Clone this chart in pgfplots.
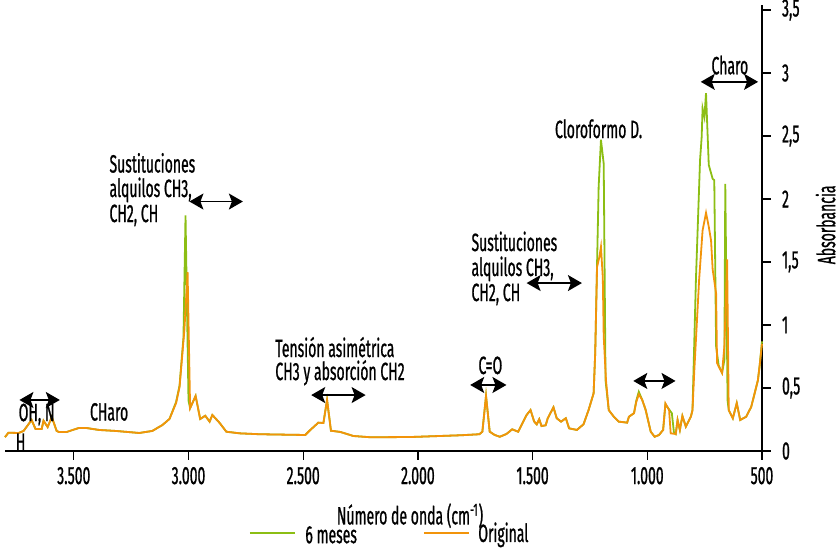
\documentclass[border=0pt]{standalone}
\usepackage{fontspec}
\setmainfont{Fira Sans}[FakeStretch=0.56, FakeBold=0.8]
\usepackage{pgfplots}
\pgfplotsset{compat=1.18}
\usepackage{pgfplotstable}
\usetikzlibrary{arrows.meta}
\definecolor{verde}{RGB}{140,190,20}
\definecolor{naranja}{RGB}{242,148,10}
\newcommand\lbl{\fontsize{12.5}{14}\selectfont}

% espectro original
\pgfplotstableread{
wn abs
3800 0.11
3785 0.145
3741 0.143
3719 0.159
3684 0.246
3667 0.175
3640 0.175
3632 0.24
3614 0.19
3596 0.27
3575 0.16
3566 0.151
3531 0.151
3478 0.183
3447 0.183
3390 0.167
3316 0.159
3215 0.143
3158 0.159
3114 0.206
3083 0.254
3054 0.381
3039 0.508
3018 0.96
3004 1.42
2993 0.34
2969 0.437
2949 0.254
2927 0.28
2908 0.233
2896 0.286
2864 0.222
2835 0.153
2776 0.14
2689 0.133
2491 0.127
2469 0.167
2434 0.225
2412 0.222
2396 0.405
2379 0.161
2338 0.151
2281 0.119
2206 0.109
2031 0.111
1811 0.125
1732 0.133
1719 0.153
1703 0.437
1687 0.153
1665 0.127
1643 0.113
1614 0.135
1589 0.172
1563 0.153
1526 0.286
1509 0.325
1493 0.233
1482 0.212
1471 0.252
1461 0.198
1443 0.204
1434 0.26
1409 0.347
1395 0.26
1376 0.233
1355 0.26
1341 0.18
1307 0.167
1278 0.212
1256 0.325
1234 0.458
1227 0.78
1219 1.46
1209 1.54
1202 1.62
1194 1.38
1190 0.91
1180 0.56
1168 0.325
1146 0.272
1124 0.233
1088 0.225
1080 0.272
1058 0.3
1048 0.39
1037 0.45
1022 0.405
1007 0.325
985 0.153
968 0.113
949 0.127
931 0.167
921 0.378
905 0.325
898 0.14
876 0.135
868 0.246
858 0.167
847 0.278
832 0.193
810 0.272
803 0.325
795 0.64
774 1.36
759 1.75
744 1.89
732 1.78
722 1.67
715 1.44
700 1.25
696 0.70
686 0.66
674 0.62
664 0.83
652 1.52
645 0.325
627 0.26
610 0.38
595 0.246
569 0.272
547 0.35
518 0.56
510 0.68
500 0.85
}\original

% espectro a los 6 meses
\pgfplotstableread{
wn abs
3800 0.11
3785 0.145
3741 0.143
3719 0.159
3684 0.246
3667 0.175
3640 0.175
3632 0.24
3614 0.19
3596 0.27
3575 0.16
3566 0.151
3531 0.151
3478 0.183
3447 0.183
3390 0.167
3316 0.159
3215 0.143
3158 0.159
3114 0.206
3083 0.254
3054 0.39
3039 0.52
3022 0.90
3013 1.87
3000 0.40
2993 0.34
2969 0.437
2949 0.254
2927 0.28
2908 0.233
2896 0.286
2864 0.222
2835 0.153
2776 0.14
2689 0.133
2491 0.127
2469 0.167
2434 0.225
2412 0.222
2396 0.405
2379 0.161
2338 0.151
2281 0.119
2206 0.109
2031 0.111
1811 0.125
1732 0.133
1719 0.153
1703 0.437
1687 0.153
1665 0.127
1643 0.113
1614 0.135
1589 0.172
1563 0.153
1526 0.286
1509 0.325
1493 0.233
1482 0.212
1471 0.252
1461 0.198
1443 0.204
1434 0.26
1409 0.347
1395 0.26
1376 0.233
1355 0.26
1341 0.18
1307 0.167
1278 0.212
1256 0.325
1234 0.458
1227 0.78
1212 2.10
1202 2.47
1190 2.28
1182 0.56
1168 0.325
1146 0.272
1124 0.233
1088 0.225
1080 0.272
1058 0.3
1048 0.40
1037 0.47
1022 0.405
1007 0.325
985 0.153
968 0.113
949 0.127
931 0.167
921 0.37
905 0.33
893 0.30
884 0.15
876 0.135
868 0.246
858 0.167
847 0.278
832 0.193
810 0.272
803 0.325
788 1.36
770 2.31
763 2.49
759 2.72
751 2.65
744 2.84
732 2.27
715 2.16
708 2.15
700 0.83
689 0.68
674 0.62
664 0.72
660 2.12
650 0.40
645 0.325
627 0.26
610 0.38
595 0.246
569 0.272
547 0.35
518 0.56
510 0.68
500 0.87
}\seismeses

\begin{document}
\begin{tikzpicture}[
  arr/.style={{Stealth[length=7pt,width=8pt,inset=1.5pt]}-{Stealth[length=7pt,width=8pt,inset=1.5pt]}, line width=0.7pt},
  txt/.style={font=\lbl, inner sep=0pt}]
\begin{axis}[
  scale only axis, width=378.5pt, height=223pt,
  x dir=reverse, xmin=500, xmax=3800, ymin=0, ymax=3.54,
  axis x line*=bottom, axis y line*=right,
  clip=false,
  xtick={3500,3000,2500,2000,1500,1000,500},
  xticklabels={3.500,3.000,2.500,2.000,1.500,1.000,500},
  ytick={0,0.5,1,1.5,2,2.5,3,3.5},
  yticklabels={0,{0,5},1,{1,5},2,{2,5},3,{3,5}},
  tick align=outside, major tick length=4.5pt,
  tick style={black, line width=0.6pt},
  axis line style={black, line width=0.6pt},
  ticklabel style={font=\lbl},
  yticklabel style={xshift=2pt},
]
\addplot[verde, line width=0.9pt] table[x=wn, y=abs] {\seismeses};
\addplot[naranja, line width=0.9pt] table[x=wn, y=abs] {\original};

\coordinate (bl) at (axis description cs:0,0);
\coordinate (tr) at (axis description cs:1,1);

\node[font=\lbl, rotate=90] at (axis description cs:1.084,0.507) {Absorbancia};
\node[font=\lbl] at (axis description cs:0.535,-0.145) {Número de onda (cm\textsuperscript{-1})};

% leyenda
\draw[verde, line width=0.9pt] (axis description cs:0.3236,-0.1839) -- (axis description cs:0.3831,-0.1839);
\node[txt, anchor=west] at (axis description cs:0.3963,-0.188) {6 meses};
\draw[naranja, line width=0.9pt] (axis description cs:0.5535,-0.1839) -- (axis description cs:0.6129,-0.1839);
\node[txt, anchor=west] at (axis description cs:0.6248,-0.188) {Original};

% anotaciones
\node[txt] at (axis cs:3662,0.29) {OH, N};
\node[txt] at (axis cs:3732,0.07) {H};
\draw[arr] (axis cs:3737,0.405) -- (axis cs:3561,0.405);
\node[txt] at (axis cs:3346,0.31) {CHaro};

\node[txt, anchor=base west] at (axis cs:3346,2.21) {Sustituciones};
\node[txt, anchor=base west] at (axis cs:3346,2.016) {alquilos CH3,};
\node[txt, anchor=base west] at (axis cs:3346,1.817) {CH2, CH};
\draw[arr] (axis cs:2996,1.98) -- (axis cs:2763,1.98);

\node[txt, anchor=base west] at (axis cs:2623,0.746) {Tensión asimétrica};
\node[txt, anchor=base west] at (axis cs:2623,0.563) {CH3 y absorción CH2};
\draw[arr] (axis cs:2465,0.444) -- (axis cs:2228,0.444);

\node[txt, anchor=base] at (axis cs:1684,0.611) {C=O};
\draw[arr] (axis cs:1772,0.524) -- (axis cs:1614,0.524);

\node[txt, anchor=base west] at (axis cs:1768,1.587) {Sustituciones};
\node[txt, anchor=base west] at (axis cs:1768,1.389) {alquilos CH3,};
\node[txt, anchor=base west] at (axis cs:1768,1.19) {CH2, CH};
\draw[arr] (axis cs:1526,1.333) -- (axis cs:1285,1.333);

\node[txt, anchor=base west] at (axis cs:1404,2.484) {Cloroformo D.};
\draw[arr] (axis cs:1061,0.556) -- (axis cs:877,0.556);

\node[txt, anchor=base] at (axis cs:640,2.99) {Charo};
\draw[arr] (axis cs:767,2.93) -- (axis cs:517,2.93);
\end{axis}
\pgfresetboundingbox
\path ([xshift=-2.5pt,yshift=-49.5pt]bl) rectangle ([xshift=39pt,yshift=2.5pt]tr);
\end{tikzpicture}
\end{document}
